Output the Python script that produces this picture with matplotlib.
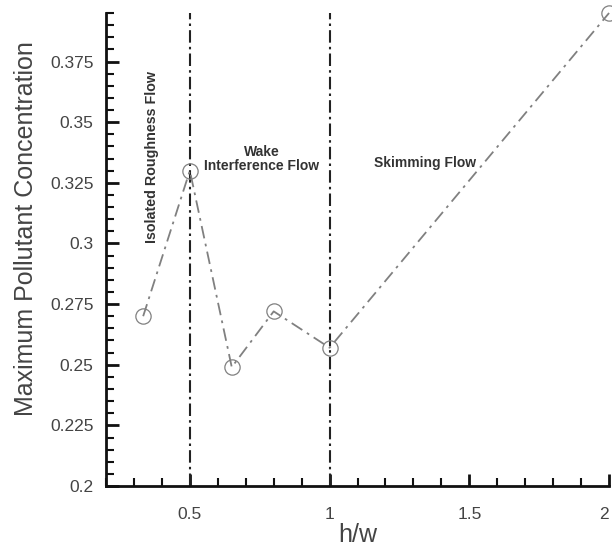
import matplotlib
matplotlib.use("Agg")
import matplotlib.pyplot as plt
from matplotlib.ticker import MultipleLocator, FixedFormatter, FixedLocator

# Data: aspect ratio h/w vs. maximum pollutant concentration
hw = [0.333, 0.5, 0.65, 0.8, 1.0, 2.0]
max_conc = [0.270, 0.330, 0.249, 0.272, 0.257, 0.395]

# Flow regime boundaries
regime_bounds = [0.5, 1.0]

x_ticks = [0.5, 1.0, 1.5, 2.0]
x_tick_labels = ["0.5", "1", "1.5", "2"]
y_ticks = [0.2, 0.225, 0.25, 0.275, 0.3, 0.325, 0.35, 0.375]
y_tick_labels = ["0.2", "0.225", "0.25", "0.275", "0.3", "0.325", "0.35", "0.375"]

plt.rcParams["font.family"] = ["Liberation Sans", "DejaVu Sans"]

fig = plt.figure(figsize=(6.12, 5.48), dpi=100)
ax = fig.add_axes([0.1732, 0.1131, 0.822, 0.8632])

ax.plot(hw, max_conc, color="#808080", lw=1.3, dashes=(7, 3, 1.5, 3),
        marker="o", markersize=11, markerfacecolor="none",
        markeredgecolor="#808080", markeredgewidth=0.9, clip_on=False, zorder=3)

for xb in regime_bounds:
    ax.axvline(xb, color="#222222", lw=1.5, dashes=(6, 2, 1.2, 2), zorder=2)

ax.set_xlim(0.2, 2.0)
ax.set_ylim(0.2, 0.395)

ax.xaxis.set_major_locator(FixedLocator(x_ticks))
ax.xaxis.set_major_formatter(FixedFormatter(x_tick_labels))
ax.xaxis.set_minor_locator(MultipleLocator(0.1))
ax.yaxis.set_major_locator(FixedLocator(y_ticks))
ax.yaxis.set_major_formatter(FixedFormatter(y_tick_labels))
ax.yaxis.set_minor_locator(MultipleLocator(0.005))

for side in ["top", "right"]:
    ax.spines[side].set_visible(False)
for side in ["left", "bottom"]:
    ax.spines[side].set_linewidth(2.0)
    ax.spines[side].set_color("#111111")

ax.tick_params(which="major", direction="in", length=9, width=2.0,
               color="#111111", labelsize=12.5, labelcolor="#444444")
ax.tick_params(axis="x", which="major", pad=15)
ax.tick_params(axis="y", which="major", pad=9)
ax.tick_params(which="minor", direction="in", length=5.5, width=1.5,
               color="#111111")

# keep the last x tick label inside the figure edge
fig.canvas.draw()
for lbl in ax.xaxis.get_majorticklabels():
    if lbl.get_text() == "2":
        lbl.set_ha("right")

ax.set_xlabel("h/w", fontsize=18, color="#444444", labelpad=1)
ax.set_ylabel("Maximum Pollutant Concentration", fontsize=18,
              color="#444444")
ax.yaxis.set_label_coords(-0.135, 0.545)

ax.text(0.364, 0.3358, "Isolated Roughness Flow", rotation=90, fontsize=10.3,
        fontweight="bold", color="#333333", ha="center", va="center")
ax.text(0.757, 0.335, "Wake\nInterference Flow", fontsize=10,
        fontweight="bold", color="#333333", ha="center", va="center",
        linespacing=1.0)
ax.text(1.343, 0.333, "Skimming Flow", fontsize=10, fontweight="bold",
        color="#333333", ha="center", va="center")

fig.savefig("out.png", dpi=100)
